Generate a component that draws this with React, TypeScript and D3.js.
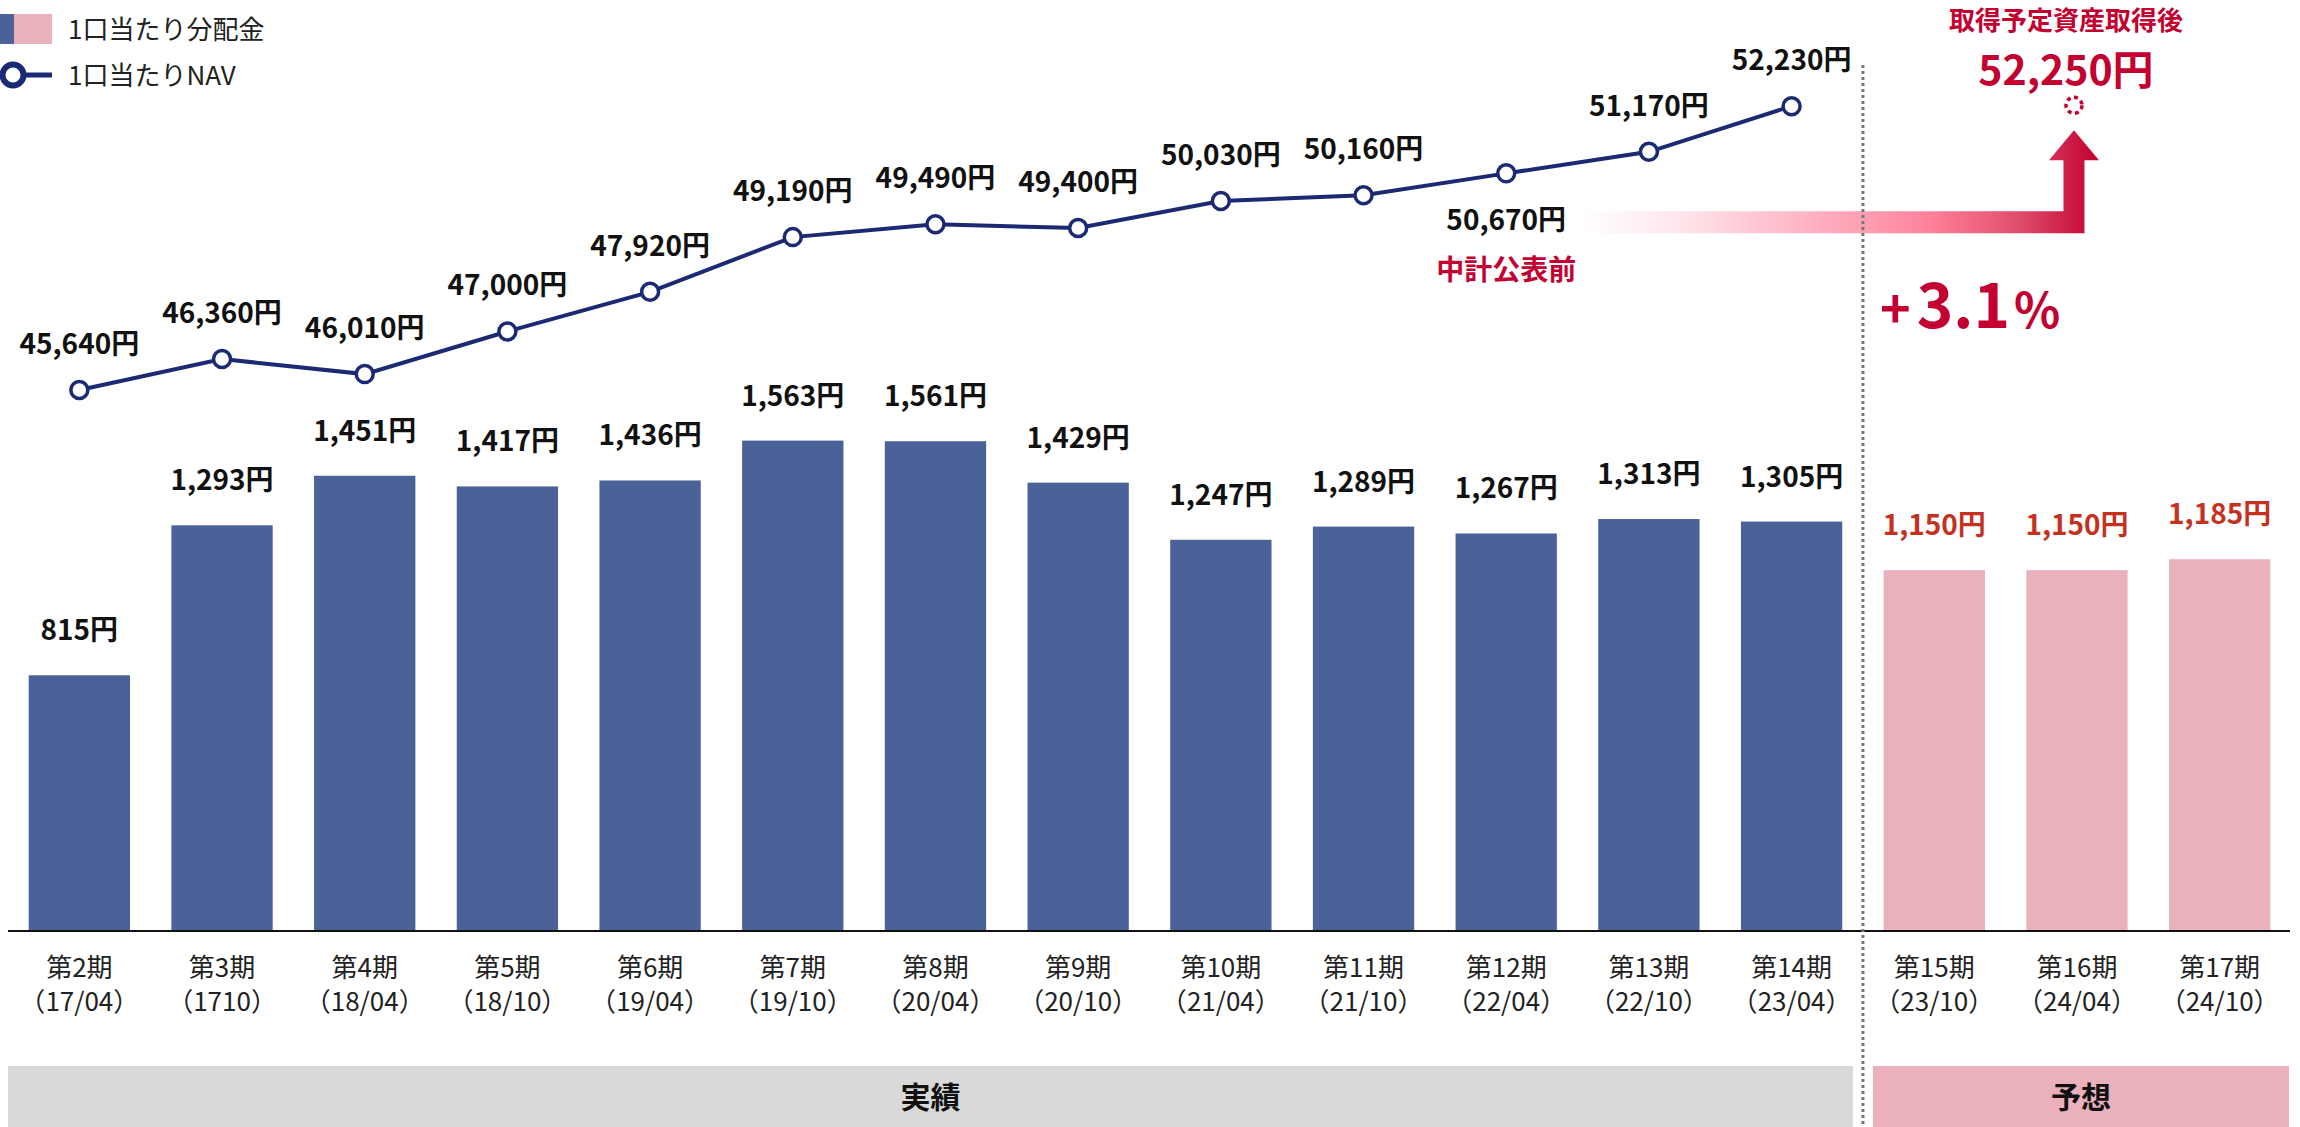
import React from 'react';
import * as d3 from 'd3';

// chart data
const periods = ['第2期', '第3期', '第4期', '第5期', '第6期', '第7期', '第8期', '第9期', '第10期', '第11期', '第12期', '第13期', '第14期', '第15期', '第16期', '第17期'];
const dates = ['17/04', '1710', '18/04', '18/10', '19/04', '19/10', '20/04', '20/10', '21/04', '21/10', '22/04', '22/10', '23/04', '23/10', '24/04', '24/10'];
const distribution = [815, 1293, 1451, 1417, 1436, 1563, 1561, 1429, 1247, 1289, 1267, 1313, 1305, 1150, 1150, 1185];
const navPeriods = periods.slice(0, 13);
const nav = [45640, 46360, 46010, 47000, 47920, 49190, 49490, 49400, 50030, 50160, 50670, 51170, 52230];
const forecastStart = 13;
const navAfterPeriod = '第16期';
const navAfter = 52250;
const navBeforeLabelPeriod = '第12期';

const W = 2300;
const H = 1127;
const BLUE = '#4a6298';
const PINK = '#eab0bb';
const NAVY = '#1b2a72';
const CRIMSON = '#c3002f';
const FC_RED = '#c4321f';
const FONT = '"Noto Sans CJK JP", "Noto Sans", sans-serif';

const fmt = (v: number) => d3.format(',')(v) + '円';

const App = () => {
  const x = d3.scaleBand<string>().domain(periods).range([8, 2291]).paddingInner(0.29).paddingOuter(0.145);
  const cx = (p: string) => (x(p) ?? 0) + x.bandwidth() / 2;
  const yBar = d3.scaleLinear().domain([0, 1600]).range([931, 429]);
  const yNav = d3.scaleLinear().domain([40000, 53000]).range([633, 73]);
  const baseY = yBar(0);

  const line = d3.line<number>()
    .x((_, i) => cx(navPeriods[i]))
    .y(d => yNav(d));

  const splitX = (cx(periods[forecastStart - 1]) + cx(periods[forecastStart])) / 2;

  // arrow geometry
  const ax = cx(navAfterPeriod) - 3;
  const arrowLeft = cx(navBeforeLabelPeriod) + 76;
  const barTop = yNav(nav[10]) + 38;
  const barBot = barTop + 22;
  const shaft = 10.5;
  const headW = 25;
  const headBase = yNav(navAfter) + 55;
  const tip = headBase - 30;
  const arrowPath = [
    `M${arrowLeft},${barTop}`,
    `L${ax - shaft},${barTop}`,
    `L${ax - shaft},${headBase}`,
    `L${ax - headW},${headBase}`,
    `L${ax},${tip}`,
    `L${ax + headW},${headBase}`,
    `L${ax + shaft},${headBase}`,
    `L${ax + shaft},${barBot}`,
    `L${arrowLeft},${barBot}`,
    'Z',
  ].join(' ');

  return (
    <svg width={W} height={H} style={{ position: 'absolute', left: 0, top: 0, background: '#fff' }} fontFamily={FONT}>
      <defs>
        <linearGradient id="arrowGrad" gradientUnits="userSpaceOnUse" x1={arrowLeft} y1={0} x2={ax + headW} y2={0}>
          <stop offset="0" stopColor="#ffffff" />
          <stop offset="0.2" stopColor="#ffe3ea" />
          <stop offset="0.55" stopColor="#ff9db2" />
          <stop offset="0.68" stopColor="#ff7f99" />
          <stop offset="0.85" stopColor="#df4a6b" />
          <stop offset="1" stopColor={CRIMSON} />
        </linearGradient>
      </defs>

      {/* legend */}
      <rect x={0} y={14} width={14} height={30} fill={BLUE} />
      <rect x={14} y={14} width={38} height={30} fill={PINK} />
      <text x={68} y={39} fontSize={26} fill="#222">1口当たり分配金</text>
      <line x1={13} y1={75} x2={52} y2={75} stroke={NAVY} strokeWidth={5} />
      <circle cx={13} cy={75} r={10.5} fill="#fff" stroke={NAVY} strokeWidth={6} />
      <text x={68} y={85} fontSize={26} fill="#222">1口当たりNAV</text>

      {/* bars */}
      {distribution.map((v, i) => (
        <g key={periods[i]}>
          <rect x={x(periods[i])} y={yBar(v)} width={x.bandwidth()} height={baseY - yBar(v)} fill={i >= forecastStart ? PINK : BLUE} />
          <text x={cx(periods[i])} y={yBar(v) - 35} textAnchor="middle" fontSize={28} fontWeight={700} fill={i >= forecastStart ? FC_RED : '#111'}>
            {fmt(v)}
          </text>
        </g>
      ))}

      {/* baseline */}
      <line x1={8} x2={2290} y1={baseY} y2={baseY} stroke="#111" strokeWidth={2} />

      {/* x labels */}
      {periods.map((p, i) => (
        <g key={p} fontSize={26} fill="#222" textAnchor="middle">
          <text x={cx(p)} y={977}>{p}</text>
          <text x={cx(p)} y={1011}>（{dates[i]}）</text>
        </g>
      ))}

      {/* arrow annotation */}
      <path d={arrowPath} fill="url(#arrowGrad)" />

      {/* split line */}
      <line x1={splitX} x2={splitX} y1={65} y2={H} stroke="#777" strokeWidth={3} strokeDasharray="3 3" />

      {/* NAV line */}
      <path d={line(nav) ?? ''} fill="none" stroke={NAVY} strokeWidth={4} />
      {nav.map((v, i) => {
        const px = cx(navPeriods[i]);
        const py = yNav(v);
        const below = navPeriods[i] === navBeforeLabelPeriod;
        return (
          <g key={navPeriods[i]}>
            <circle cx={px} cy={py} r={8.5} fill="#fff" stroke={NAVY} strokeWidth={3.5} />
            <text x={px} y={below ? py + 57 : py - 36} textAnchor="middle" fontSize={28} fontWeight={700} fill="#111">
              {fmt(v)}
            </text>
          </g>
        );
      })}
      <text x={cx(navBeforeLabelPeriod)} y={yNav(nav[10]) + 107} textAnchor="middle" fontSize={28} fontWeight={700} fill={CRIMSON}>
        中計公表前
      </text>

      {/* after acquisition */}
      <circle cx={ax} cy={yNav(navAfter)} r={8} fill="none" stroke={CRIMSON} strokeWidth={3.5} strokeDasharray="4 3.5" />
      <text x={ax - 8} y={30} textAnchor="middle" fontSize={26} fontWeight={700} fill={CRIMSON}>取得予定資産取得後</text>
      <text x={ax - 8} y={85} textAnchor="middle" fontSize={41} fontWeight={700} fill={CRIMSON}>{fmt(navAfter)}</text>
      <text x={1880} y={328} fontWeight={700} fill={CRIMSON}>
        <tspan fontSize={52}>+</tspan>
        <tspan fontSize={62} dx={6}>3.1</tspan>
        <tspan fontSize={48} dx={4}>%</tspan>
      </text>

      {/* period bands */}
      <rect x={8} y={1066} width={splitX - 10 - 8} height={H - 1066} fill="#d9d9d9" />
      <rect x={splitX + 10} y={1066} width={2289 - splitX - 10} height={H - 1066} fill={PINK} />
      <text x={(8 + splitX - 10) / 2} y={1108} textAnchor="middle" fontSize={30} fontWeight={700} fill="#111">実績</text>
      <text x={(splitX + 10 + 2289) / 2} y={1108} textAnchor="middle" fontSize={30} fontWeight={700} fill="#111">予想</text>
    </svg>
  );
};

export default App;
